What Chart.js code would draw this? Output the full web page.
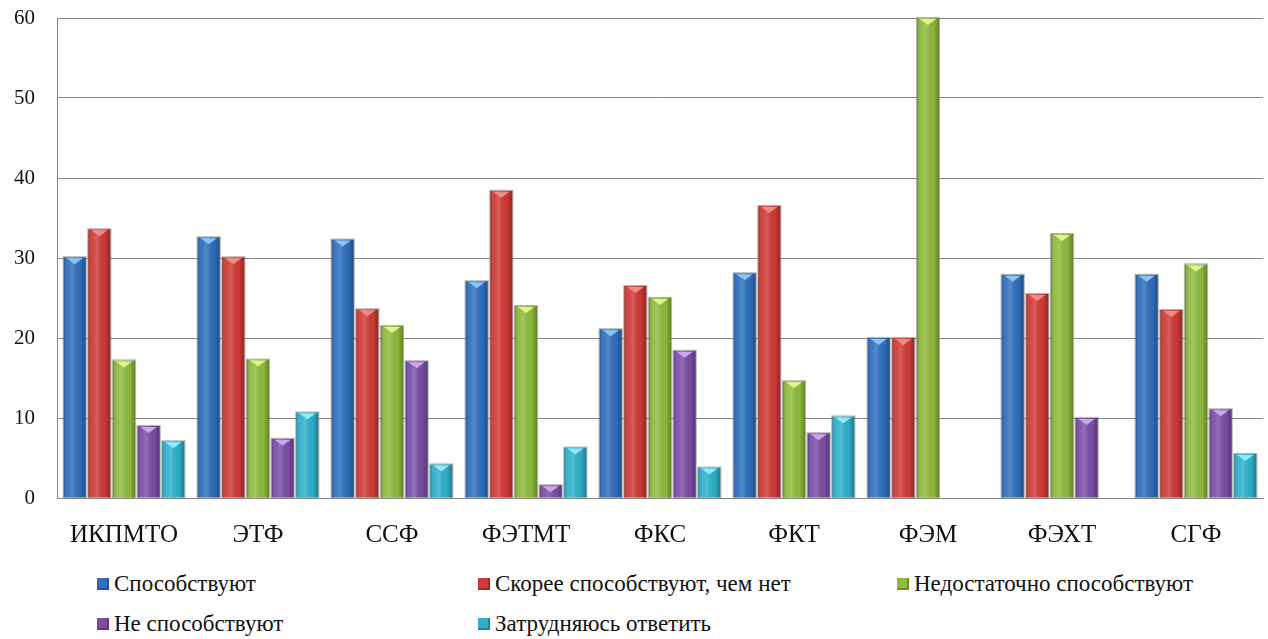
<!DOCTYPE html>
<html lang="ru">
<head>
<meta charset="utf-8">
<script src="https://cdn.jsdelivr.net/npm/chart.js@4/dist/chart.umd.min.js"></script>
<style>
  html, body { margin: 0; padding: 0; background: #fff; }
  #wrap { position: relative; width: 1268px; height: 639px; }
  #chart-box { position: absolute; left: 0; top: 0; width: 1268px; height: 560px; }
  #legend {
    position: absolute; left: 97px; top: 572px;
    display: grid; grid-template-columns: 381px 419px auto; row-gap: 16px;
    font-family: "Liberation Serif", "DejaVu Serif", "Times New Roman", serif;
    font-size: 23px; color: #111;
  }
  #legend .item { display: flex; align-items: center; white-space: nowrap; line-height: 24px; }
  #legend .box { width: 12px; height: 12px; margin-right: 5px; box-shadow: inset -2px -2px 0 rgba(0,0,0,0.25); }
</style>
</head>
<body>
<div id="wrap">
  <div id="chart-box"><canvas id="chart-bars"></canvas></div>
  <div id="legend"></div>
</div>
<script>
const FACULTIES = ['ИКПМТО', 'ЭТФ', 'ССФ', 'ФЭТМТ', 'ФКС', 'ФКТ', 'ФЭМ', 'ФЭХТ', 'СГФ'];

const SERIES_NAMES = [
  'Способствуют',
  'Скорее способствуют, чем нет',
  'Недостаточно способствуют',
  'Не способствуют',
  'Затрудняюсь ответить',
];

// доли ответов по факультетам, %
const HELP = [30.1, 32.6, 32.3, 27.1, 21.1, 28.1, 20.0, 27.9, 27.9];
const RATHER_HELP = [33.6, 30.1, 23.6, 38.4, 26.5, 36.5, 20.0, 25.5, 23.5];
const NOT_ENOUGH = [17.2, 17.3, 21.5, 24.0, 25.0, 14.6, 60.0, 33.0, 29.2];
const NOT_HELP = [9.0, 7.4, 17.1, 1.6, 18.4, 8.1, 0, 10.0, 11.1];
const HARD_TO_SAY = [7.1, 10.7, 4.2, 6.3, 3.8, 10.2, 0, 0, 5.5];

const Y_TICKS = [0, 10, 20, 30, 40, 50, 60];

const COLORS = ['#2f6fbe', '#cf3a35', '#8fba3c', '#7a4ea6', '#2eb0cc'];
const CAPS = ['#8cc4f5', '#f08c88', '#e2f58a', '#c9a6ee', '#8cecf8'];

const FONT = '"Liberation Serif", "DejaVu Serif", "Times New Roman", serif';

// цилиндрическая подсветка и светлый треугольник сверху у каждого столбика
const bevelPlugin = {
  id: 'bevel',
  afterDatasetsDraw(chart) {
    const ctx = chart.ctx;
    chart.data.datasets.forEach((ds, di) => {
      const meta = chart.getDatasetMeta(di);
      meta.data.forEach(bar => {
        const h = bar.base - bar.y;
        if (h < 1) return;
        const left = bar.x - bar.width / 2;
        const g = ctx.createLinearGradient(left, 0, left + bar.width, 0);
        g.addColorStop(0, 'rgba(0,0,0,0.28)');
        g.addColorStop(0.18, 'rgba(255,255,255,0.05)');
        g.addColorStop(0.4, 'rgba(255,255,255,0.18)');
        g.addColorStop(0.75, 'rgba(0,0,0,0.02)');
        g.addColorStop(1, 'rgba(0,0,0,0.3)');
        ctx.save();
        ctx.fillStyle = g;
        ctx.fillRect(left, bar.y, bar.width, h);
        ctx.strokeStyle = 'rgba(120,120,120,0.55)';
        ctx.lineWidth = 1;
        ctx.strokeRect(left - 0.5, bar.y - 0.5, bar.width + 1, h + 1);
        const capH = Math.min(7, h);
        ctx.fillStyle = CAPS[di];
        ctx.beginPath();
        ctx.moveTo(left + 3, bar.y + 1);
        ctx.lineTo(left + bar.width - 3, bar.y + 1);
        ctx.lineTo(bar.x, bar.y + capH);
        ctx.closePath();
        ctx.fill();
        ctx.restore();
      });
    });
  },
};

function buildLegend(chart) {
  const box = document.getElementById('legend');
  box.innerHTML = '';
  chart.data.datasets.forEach(ds => {
    const item = document.createElement('div');
    item.className = 'item';
    const sw = document.createElement('span');
    sw.className = 'box';
    sw.style.background = ds.backgroundColor;
    const label = document.createElement('span');
    label.textContent = ds.label;
    item.append(sw, label);
    box.append(item);
  });
}

const seriesValues = [HELP, RATHER_HELP, NOT_ENOUGH, NOT_HELP, HARD_TO_SAY];

const chart = new Chart(document.getElementById('chart-bars'), {
  type: 'bar',
  data: {
    labels: FACULTIES,
    datasets: seriesValues.map((vals, i) => ({
      label: SERIES_NAMES[i],
      data: vals,
      backgroundColor: COLORS[i],
      borderWidth: 0,
      categoryPercentage: 0.92,
      barPercentage: 0.9,
    })),
  },
  options: {
    responsive: true,
    maintainAspectRatio: false,
    animation: false,
    layout: { padding: { top: 0, right: 5, left: 0, bottom: 0 } },
    plugins: {
      legend: { display: false },
      tooltip: { enabled: false },
    },
    scales: {
      x: {
        grid: { display: false, drawTicks: false },
        border: { display: true, color: '#888', width: 1 },
        ticks: { color: '#111', padding: 22, font: { family: FONT, size: 25 } },
        afterFit: s => { s.height = 62; },
      },
      y: {
        min: 0,
        max: 60,
        afterBuildTicks: s => { s.ticks = Y_TICKS.map(v => ({ value: v })); },
        grid: { color: '#888', lineWidth: 1, drawTicks: false },
        border: { display: true, color: '#888', width: 1 },
        ticks: { color: '#111', padding: 22, font: { family: FONT, size: 21 } },
        // подпись «60» не должна отодвигать область построения вниз
        afterFit: s => { s.width = 57; s.paddingTop = 18; s.paddingBottom = 12; },
      },
    },
  },
  plugins: [bevelPlugin],
});

buildLegend(chart);
</script>
</body>
</html>
